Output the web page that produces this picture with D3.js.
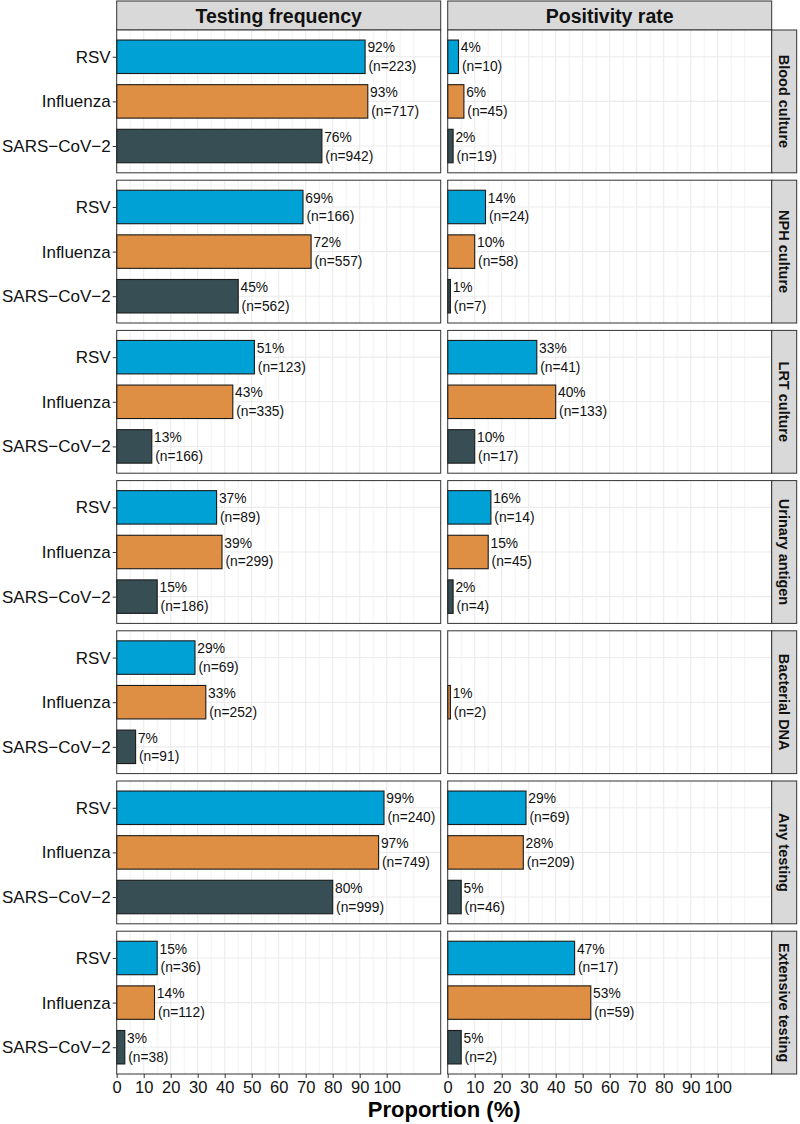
<!DOCTYPE html>
<html><head><meta charset="utf-8">
<script src="https://cdn.jsdelivr.net/npm/d3@7"></script>
<style>body{margin:0;background:#fff} svg text{font-family:"Liberation Sans",Arial,Helvetica,sans-serif}</style>
</head><body><svg id="c" width="800" height="1124"></svg>
<script>
const viruses = ["RSV", "Influenza", "SARS\u2212CoV\u22122"];
const virusColors = ["#00A1D5", "#DF8F44", "#374E55"];
const tests = ["Blood culture", "NPH culture", "LRT culture", "Urinary antigen", "Bacterial DNA", "Any testing", "Extensive testing"];
const measures = ["Testing frequency", "Positivity rate"];
// rows = tests, columns = viruses
const freqPct = [[92, 93, 76], [69, 72, 45], [51, 43, 13], [37, 39, 15], [29, 33, 7], [99, 97, 80], [15, 14, 3]];
const freqN   = [[223, 717, 942], [166, 557, 562], [123, 335, 166], [89, 299, 186], [69, 252, 91], [240, 749, 999], [36, 112, 38]];
const posPct  = [[4, 6, 2], [14, 10, 1], [33, 40, 10], [16, 15, 2], [null, 1, null], [29, 28, 5], [47, 53, 5]];
const posN    = [[10, 45, 19], [24, 58, 7], [41, 133, 17], [14, 45, 4], [null, 2, null], [69, 209, 46], [17, 59, 2]];
const xTicks = [0, 10, 20, 30, 40, 50, 60, 70, 80, 90, 100];
const xMinorGrid = [5, 15, 25, 35, 45, 55, 65, 75, 85, 95, 105, 110];
const xTitle = "Proportion (%)";

const svg = d3.select("#c");
const panelW = 324, panelH = 142.8, gapY = 7.4, gapX = 7;
const left0 = 116.7, top0 = 30;
const stripTop = 1;
const stripRW = 25;

const x = d3.scaleLinear().domain([0, 120]).range([0, panelW]);
const y = d3.scalePoint().domain(viruses).range([0, panelH]).padding(0.6);
const barH = y.step() * 0.75;
const color = d3.scaleOrdinal().domain(viruses).range(virusColors);

const datasets = [[freqPct, freqN], [posPct, posN]];

// top strips
measures.forEach((m, c) => {
  const px = left0 + c * (panelW + gapX);
  svg.append("rect").attr("x", px).attr("y", stripTop).attr("width", panelW).attr("height", top0 - stripTop)
    .attr("fill", "#D9D9D9").attr("stroke", "#333").attr("stroke-width", 1);
  svg.append("text").attr("x", px + panelW / 2).attr("y", (stripTop + top0) / 2).attr("dy", "0.36em")
    .attr("text-anchor", "middle").attr("font-size", 19.5).attr("font-weight", "bold").attr("fill", "#111").text(m);
});

tests.forEach((t, r) => {
  const py = top0 + r * (panelH + gapY);
  measures.forEach((m, c) => {
    const px = left0 + c * (panelW + gapX);
    const g = svg.append("g").attr("transform", `translate(${px},${py})`);
    g.append("rect").attr("width", panelW).attr("height", panelH).attr("fill", "#fff");
    // grid
    g.selectAll(".mnv").data(xMinorGrid).join("line")
      .attr("x1", d => x(d)).attr("x2", d => x(d)).attr("y1", 0).attr("y2", panelH)
      .attr("stroke", "#EBEBEB").attr("stroke-width", 0.6);
    g.selectAll(".mjv").data(xTicks).join("line")
      .attr("x1", d => x(d)).attr("x2", d => x(d)).attr("y1", 0).attr("y2", panelH)
      .attr("stroke", "#EBEBEB").attr("stroke-width", 1.1);
    g.selectAll(".mjh").data(viruses).join("line")
      .attr("x1", 0).attr("x2", panelW).attr("y1", d => y(d)).attr("y2", d => y(d))
      .attr("stroke", "#EBEBEB").attr("stroke-width", 1.1);

    const [pcts, ns] = datasets[c];
    const rows = viruses.map((v, i) => ({ v, p: pcts[r][i], n: ns[r][i] })).filter(d => d.p != null);
    g.selectAll(".bar").data(rows).join("rect")
      .attr("x", x(0)).attr("y", d => y(d.v) - barH / 2)
      .attr("width", d => x(d.p) - x(0)).attr("height", barH)
      .attr("fill", d => color(d.v)).attr("stroke", "#1a1a1a").attr("stroke-width", 1.1);
    const lab = g.selectAll(".lab").data(rows).join("text")
      .attr("font-size", 13.8).attr("fill", "#111");
    lab.append("tspan").attr("x", d => x(d.p) + 2.3).attr("y", d => y(d.v) - 4.3).text(d => d.p + "%");
    lab.append("tspan").attr("x", d => x(d.p) + 3.4).attr("y", d => y(d.v) + 14.5).text(d => "(n=" + d.n + ")");

    g.append("rect").attr("width", panelW).attr("height", panelH).attr("fill", "none")
      .attr("stroke", "#333").attr("stroke-width", 1);

    if (c === 0) {
      const ax = g.append("g").call(d3.axisLeft(y).tickSize(4).tickPadding(2));
      ax.select(".domain").remove();
      ax.selectAll("line").attr("stroke", "#333");
      ax.selectAll("text").attr("font-size", 17).attr("fill", "#111").attr("font-family", null);
    }
    if (r === tests.length - 1) {
      const ax = g.append("g").attr("transform", `translate(0,${panelH})`)
        .call(d3.axisBottom(x).tickValues(xTicks).tickSize(4).tickPadding(3));
      ax.select(".domain").remove();
      ax.selectAll("line").attr("stroke", "#333");
      ax.selectAll("text").attr("font-size", 16.5).attr("fill", "#111").attr("font-family", null);
    }
  });
  // right strip
  const sx = left0 + 2 * panelW + gapX;
  svg.append("rect").attr("x", sx).attr("y", py).attr("width", stripRW).attr("height", panelH)
    .attr("fill", "#D9D9D9").attr("stroke", "#333").attr("stroke-width", 1);
  svg.append("text").attr("transform", `translate(${sx + stripRW / 2},${py + panelH / 2}) rotate(90)`)
    .attr("dy", "0.36em").attr("text-anchor", "middle").attr("font-size", 14.5).attr("font-weight", "bold")
    .attr("fill", "#111").text(t);
});

svg.append("text").attr("x", left0 + (2 * panelW + gapX) / 2).attr("y", 1116.5)
  .attr("text-anchor", "middle").attr("font-size", 22).attr("font-weight", "bold").attr("fill", "#000").text(xTitle);
</script></body></html>
